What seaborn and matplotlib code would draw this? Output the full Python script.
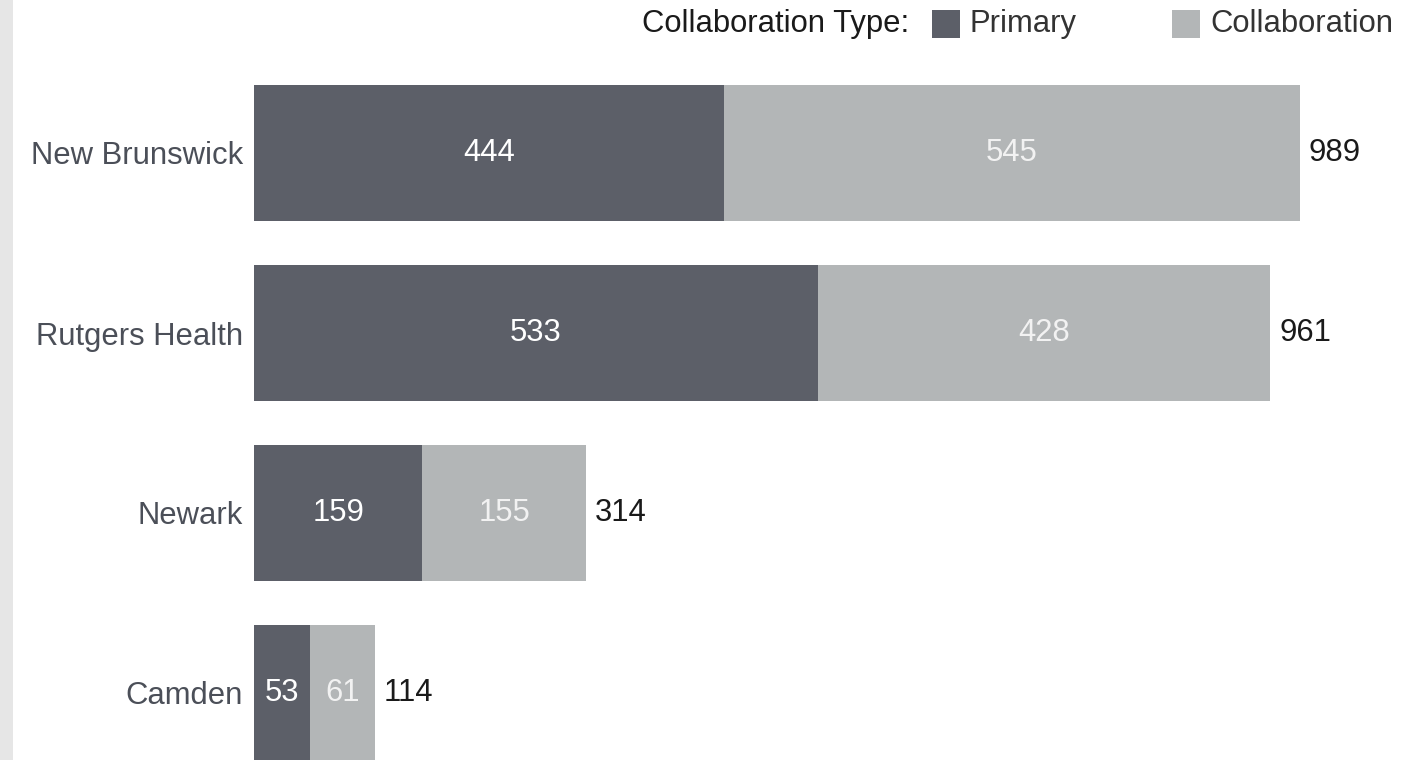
import matplotlib
matplotlib.use("Agg")
import matplotlib.pyplot as plt
import seaborn as sns
import pandas as pd
from matplotlib.patches import Rectangle

campuses = ["New Brunswick", "Rutgers Health", "Newark", "Camden"]
primary = [444, 533, 159, 53]
collaboration = [545, 428, 155, 61]
series_names = ["Primary", "Collaboration"]
legend_title = "Collaboration Type:"

C_PRIM = "#5c5f68"
C_COLL = "#b3b6b7"

sns.set_theme(style="white")
plt.rcParams['font.family'] = ['Liberation Sans', 'DejaVu Sans']

W, H = 1414, 760
fig = plt.figure(figsize=(W / 100, H / 100), dpi=100)
fig.patch.set_facecolor("white")

# grey strip on the left edge
fig.add_artist(Rectangle((0, 0), 13 / W, 1, transform=fig.transFigure,
                         facecolor="#e6e6e6", edgecolor="none"))

ax = fig.add_axes([254 / W, 0, (W - 254) / W, 1])
ax.set_facecolor("none")

totals = [p + c for p, c in zip(primary, collaboration)]
df = pd.DataFrame({"campus": campuses, "primary": primary,
                   "collaboration": collaboration, "total": totals})

sns.barplot(data=df, y="campus", x="total", color=C_COLL, orient="h",
            width=136 / 180, ax=ax, saturation=1, edgecolor="none")
sns.barplot(data=df, y="campus", x="primary", color=C_PRIM, orient="h",
            width=136 / 180, ax=ax, saturation=1, edgecolor="none")

scale = 1046 / 989  # px per unit
ax.set_xlim(0, (W - 254) / scale)
ax.set_ylim(3 + (H - 693) / 180, -153 / 180)

fs = 31 * 72 / 100
for i, (p, c, t) in enumerate(zip(primary, collaboration, totals)):
    ax.text(p / 2, i, str(p), ha="center", va="center", color="white", fontsize=fs)
    ax.text(p + c / 2, i, str(c), ha="center", va="center", color="#f2f2f2", fontsize=fs)
    ax.text(t + 9 / scale, i, str(t), ha="left", va="center", color="#1a1a1a", fontsize=fs)

ax.set_xlabel("")
ax.set_ylabel("")
ax.set_xticks([])
ax.tick_params(axis="y", length=0, pad=8, labelsize=fs, labelcolor="#4b4f58")
for s in ax.spines.values():
    s.set_visible(False)

# legend
ly = 1 - 24 / H
fig.text(642 / W, ly, legend_title, ha="left", va="center", fontsize=fs, color="#1a1a1a")
for x0, col, name in [(932, C_PRIM, series_names[0]), (1172, C_COLL, series_names[1])]:
    fig.add_artist(Rectangle((x0 / W, 1 - 38 / H), 28 / W, 28 / H,
                             transform=fig.transFigure, facecolor=col, edgecolor="none"))
    fig.text((x0 + 38) / W, ly, name, ha="left", va="center", fontsize=fs, color="#333333")

fig.savefig("out.png", dpi=100)
